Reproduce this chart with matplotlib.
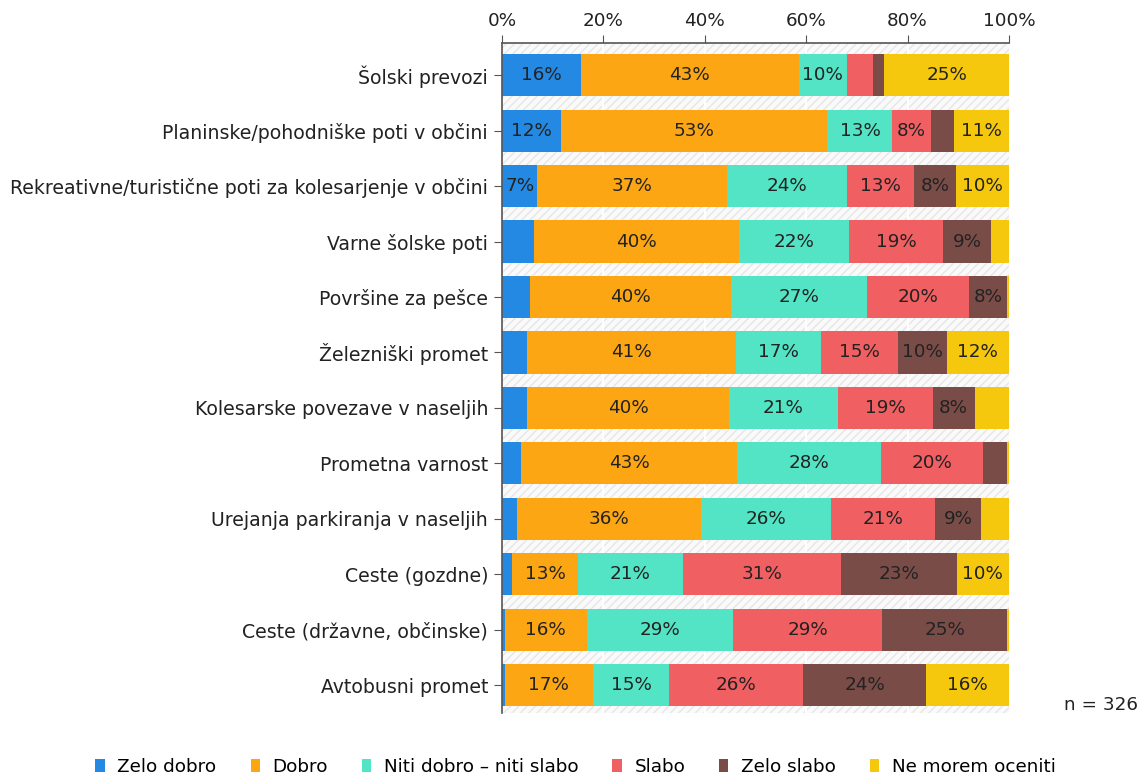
import matplotlib
matplotlib.use("Agg")
import matplotlib.pyplot as plt
from matplotlib.patches import Rectangle, Patch

categories = [
    "Šolski prevozi",
    "Planinske/pohodniške poti v občini",
    "Rekreativne/turistične poti za kolesarjenje v občini",
    "Varne šolske poti",
    "Površine za pešce",
    "Železniški promet",
    "Kolesarske povezave v naseljih",
    "Prometna varnost",
    "Urejanja parkiranja v naseljih",
    "Ceste (gozdne)",
    "Ceste (državne, občinske)",
    "Avtobusni promet",
]

series_names = ["Zelo dobro", "Dobro", "Niti dobro – niti slabo", "Slabo", "Zelo slabo", "Ne morem oceniti"]

zelo_dobro = [15.6, 11.6, 7.0, 6.3, 5.6, 4.9, 5.0, 3.7, 3.0, 2.0, 0.5, 0.5]
dobro = [42.9, 52.6, 37.3, 40.4, 39.6, 41.2, 39.8, 42.7, 36.3, 13.0, 16.2, 17.4]
niti = [9.6, 12.8, 23.8, 21.7, 26.8, 16.8, 21.4, 28.4, 25.6, 20.7, 28.9, 15.1]
slabo = [5.0, 7.6, 13.2, 18.6, 20.1, 15.2, 18.8, 20.0, 20.6, 31.2, 29.4, 26.4]
zelo_slabo = [2.3, 4.6, 8.3, 9.4, 7.6, 9.6, 8.2, 4.9, 8.9, 22.8, 24.6, 24.2]
ne_morem = [24.6, 10.8, 10.4, 3.6, 0.3, 12.3, 6.8, 0.3, 5.6, 10.3, 0.4, 16.4]

colors = ["#2389e3", "#fca614", "#52e4c4", "#f05f61", "#7a4c48", "#f6c80d"]

series = [zelo_dobro, dobro, niti, slabo, zelo_slabo, ne_morem]

FS = 13.2
TXT = "#222222"

fig = plt.figure(figsize=(11.4, 7.74), dpi=100)
ax = fig.add_axes([502 / 1140, 1 - 713 / 774, 507 / 1140, 670 / 774])

y = list(range(len(categories)))
ax.set_ylim(11.5, -0.58)
ax.set_xlim(0, 100)

# hatched background
ax.add_patch(Rectangle((0, -0.58), 100, 12.08, facecolor="#fafafa", edgecolor="#e6e6e6",
                       hatch="////", lw=0, zorder=0))
for gx in [20, 40, 60, 80]:
    ax.axvline(gx, color="#ffffff", lw=1.5, zorder=0.5)

left = [0.0] * len(categories)
for name, vals, col in zip(series_names, series, colors):
    ax.barh(y, vals, left=left, height=0.76, color=col, label=name, zorder=2)
    for i, v in enumerate(vals):
        if v >= 6.95:
            ax.text(left[i] + v / 2, i, f"{v:.0f}%", ha="center", va="center",
                    fontsize=FS, color=TXT, zorder=3)
    left = [l + v for l, v in zip(left, vals)]

ax.set_yticks(y)
ax.set_yticklabels(categories, fontsize=13.6, color=TXT)
ax.xaxis.tick_top()
ax.set_xticks([0, 20, 40, 60, 80, 100])
ax.set_xticklabels([f"{t}%" for t in [0, 20, 40, 60, 80, 100]], fontsize=FS, color=TXT)
ax.tick_params(axis="x", direction="out", length=6, color="#555555", pad=3)
ax.tick_params(axis="y", direction="out", length=6, color="#555555", pad=4)

for s in ["right", "bottom"]:
    ax.spines[s].set_visible(False)
ax.spines["top"].set_color("#555555")
ax.spines["left"].set_color("#555555")
ax.spines["top"].set_linewidth(1.2)
ax.spines["left"].set_linewidth(1.2)

handles = [Patch(facecolor=c, edgecolor="none", label=n) for c, n in zip(colors, series_names)]
fig.legend(handles=handles, loc="center", bbox_to_anchor=(0.505, 1 - 767 / 774), ncol=6,
           frameon=False, fontsize=FS, handlelength=0.5, handleheight=0.7,
           handletextpad=0.7, columnspacing=1.85)

fig.text(1101 / 1140, 1 - 705 / 774, "n = 326", ha="center", va="center", fontsize=FS, color=TXT)

fig.savefig("out.png", dpi=100)
